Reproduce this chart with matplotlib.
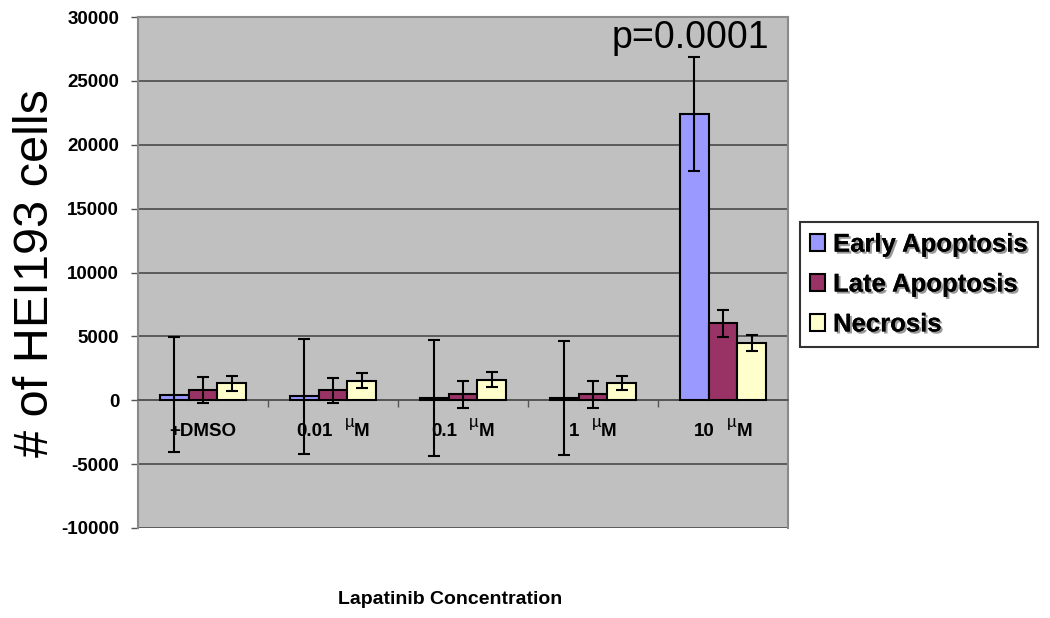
import matplotlib
matplotlib.use("Agg")
import matplotlib.pyplot as plt
import matplotlib.patheffects as pe
from matplotlib.transforms import offset_copy
import numpy as np

categories = ["+DMSO", "0.01", "0.1", "1", "10"]
units = ["", "µM", "µM", "µM", "µM"]
series = ["Early Apoptosis", "Late Apoptosis", "Necrosis"]
early = [450, 330, 170, 180, 22400]
early_err = [4500, 4500, 4530, 4490, 4450]
late = [790, 780, 460, 460, 6030]
late_err = [1000, 1000, 1050, 1050, 1040]
necrosis = [1330, 1520, 1620, 1380, 4480]
necrosis_err = [570, 580, 600, 550, 650]
yticks = [-10000, -5000, 0, 5000, 10000, 15000, 20000, 25000, 30000]
colors = ["#9999FF", "#993366", "#FFFFCC"]

plt.rcParams['font.family'] = ['Liberation Sans', 'DejaVu Sans']

fig = plt.figure(figsize=(10.5, 6.18), dpi=100)
ax = fig.add_axes([138/1050, 1 - 528/618, 650/1050, 511/618])
ax.set_facecolor("#C0C0C0")

x = np.arange(len(categories))
w = 1 / 4.5
vals = [early, late, necrosis]
errs = [early_err, late_err, necrosis_err]
handles = []
for i, (v, e, c, name) in enumerate(zip(vals, errs, colors, series)):
    h = ax.bar(x + (i - 1) * w, v, width=w, color=c, edgecolor="black", linewidth=1.5,
               label=name, zorder=3)
    ax.errorbar(x + (i - 1) * w, v, yerr=e, fmt="none", ecolor="black", elinewidth=1.5,
                capsize=4, capthick=1.5, zorder=4)
    handles.append(h)

ax.set_xlim(-0.5, len(categories) - 0.5)
ax.set_ylim(-10000, 30000)
ax.set_yticks(yticks)
ax.set_yticklabels([str(t) for t in yticks], fontsize=13.5, fontweight="bold")
ax.yaxis.grid(True, color="#4a4a4a", linewidth=1.2, zorder=1)
ax.set_axisbelow(True)

ax.spines["bottom"].set_position(("data", 0))
ax.spines["bottom"].set_color("#555555")
ax.spines["bottom"].set_linewidth(1.2)
ax.set_xticks(np.arange(len(categories) - 1) + 0.5)
ax.set_xticklabels([])
ax.tick_params(axis="x", direction="out", length=5, width=1, color="#555555")
ax.tick_params(axis="y", direction="out", length=5, width=1, color="#555555", pad=8.5)
for s in ["left", "right", "top"]:
    ax.spines[s].set_color("#8a8a8a")
    ax.spines[s].set_linewidth(1.5)

# category labels (number, raised µ, M), centred as a whole under each group
fig.canvas.draw()
renderer = fig.canvas.get_renderer()
label_y = -2470
gap = 12
for xi, cat, u in zip(x, categories, units):
    if not u:
        ax.text(xi, label_y, cat, ha="center", va="center", fontsize=13.5, fontweight="bold")
        continue
    t1 = ax.text(xi, label_y, cat, ha="left", va="center", fontsize=13.5, fontweight="bold")
    t2 = ax.text(xi, label_y, u[0], ha="left", va="center", fontsize=12)
    t3 = ax.text(xi, label_y, u[1:], ha="left", va="center", fontsize=13.5, fontweight="bold")
    w1 = t1.get_window_extent(renderer).width
    w2 = t2.get_window_extent(renderer).width
    w3 = t3.get_window_extent(renderer).width
    total = w1 + gap + w2 + w3
    start = -total / 2
    t1.set_transform(offset_copy(ax.transData, fig, x=start, y=0, units="dots"))
    t2.set_transform(offset_copy(ax.transData, fig, x=start + w1 + gap, y=9, units="dots"))
    t3.set_transform(offset_copy(ax.transData, fig, x=start + w1 + gap + w2, y=0, units="dots"))

ax.text(3.75, 28350, "p=0.0001", ha="center", va="center", fontsize=27)

fig.text(36 / 1050, 1 - 273.5 / 618, "# of HEI193 cells", rotation=90, ha="center",
         va="center", fontsize=35)
fig.text(450 / 1050, 1 - 600 / 618, "Lapatinib Concentration", ha="center",
         va="center", fontsize=14, fontweight="bold")

leg = fig.legend(handles=handles, labels=series, loc="center",
                 bbox_to_anchor=(919 / 1050, 1 - 284.5 / 618),
                 prop={"weight": "bold", "size": 18.5}, frameon=True, fancybox=False,
                 edgecolor="black", handlelength=0.6, handleheight=0.6,
                 handletextpad=0.3, labelspacing=0.62, borderpad=0.4, borderaxespad=0)
leg.get_frame().set_linewidth(1.5)
for t in leg.get_texts():
    t.set_path_effects([pe.withSimplePatchShadow(offset=(1.5, -1.5), alpha=0.4), pe.Normal()])

fig.savefig("out.png", dpi=100, facecolor="white")
